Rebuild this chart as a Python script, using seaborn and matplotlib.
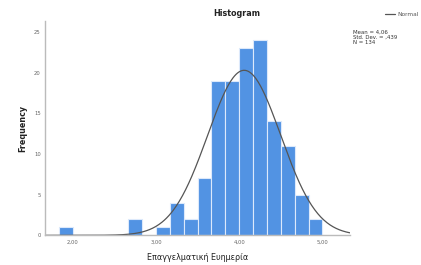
import numpy as np
import pandas as pd
import matplotlib
matplotlib.use("Agg")
import matplotlib.pyplot as plt
import seaborn as sns

# bins of width 1/6 from 1.833 to 5.0
bin_edges = [k / 6.0 for k in range(11, 31)]
counts = [1, 0, 0, 0, 0, 2, 0, 1, 4, 2, 7, 19, 19, 23, 24, 14, 11, 5, 2]
mean, sd, n = 4.06, 0.439, 134

centers = [(a + b) / 2 for a, b in zip(bin_edges[:-1], bin_edges[1:])]
df = pd.DataFrame({"score": centers, "count": counts})

sns.set_style("white")
plt.rcParams["font.family"] = ["DejaVu Sans"]

fig = plt.figure(figsize=(4.21, 2.65), dpi=100)
ax = fig.add_axes([0.107, 0.112, 0.724, 0.81])

sns.histplot(data=df, x="score", weights="count", bins=bin_edges, ax=ax,
             color="#5293e3", alpha=1, edgecolor="#dce9fb", linewidth=0.8)

xs = np.linspace(1.667, 5.33, 400)
bw = 1 / 6.0
ys = n * bw / (sd * np.sqrt(2 * np.pi)) * np.exp(-0.5 * ((xs - mean) / sd) ** 2)
ax.plot(xs, ys, color="#555555", lw=0.9)

ax.set_xlim(1.667, 5.33)
ax.set_ylim(0, 26.4)
ax.set_xticks([2, 3, 4, 5])
ax.set_xticklabels(["2,00", "3,00", "4,00", "5,00"])
ax.set_yticks([0, 5, 10, 15, 20, 25])
ax.tick_params(axis="both", labelsize=3.8, colors="#666666", length=0, pad=3)
for s in ["top", "right"]:
    ax.spines[s].set_visible(False)
for s in ["left", "bottom"]:
    ax.spines[s].set_color("#bbbbbb")
    ax.spines[s].set_linewidth(1.0)

ax.set_xlabel("Επαγγελματική Ευημερία", fontsize=5.8, labelpad=6, color="#222222")
ax.set_ylabel("Frequency", fontsize=5.8, fontweight="bold", labelpad=5, color="#222222")

fig.text(237 / 421, 1 - 14 / 265, "Histogram", ha="center", va="center",
         fontsize=5.8, fontweight="bold", color="#222222")

# legend
fig.add_artist(plt.Line2D([385 / 421, 395 / 421], [1 - 14 / 265] * 2,
                          color="#555555", lw=0.9))
fig.text(397 / 421, 1 - 14 / 265, "Normal", ha="left", va="center",
         fontsize=4.2, color="#555555")
fig.text(353 / 421, 1 - 30 / 265, "Mean = 4,06\nStd. Dev. = ,439\nN = 134",
         ha="left", va="top", fontsize=3.9, color="#333333", linespacing=1.0)

fig.savefig("out.png", dpi=100)
